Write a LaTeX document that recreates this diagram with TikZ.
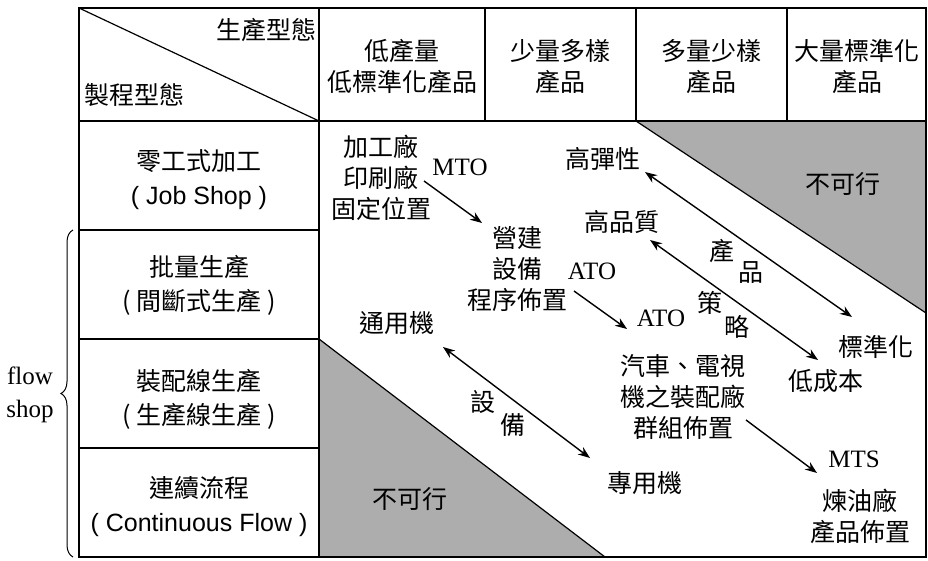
\documentclass[tikz,border=0pt]{standalone}
\usepackage{fontspec}
\setmainfont{Noto Sans CJK TC}
\newfontfamily\latsans{Liberation Sans}
\newfontfamily\latserif{Liberation Serif}
\usetikzlibrary{arrows.meta,decorations.pathreplacing}

\begin{document}
\begin{tikzpicture}[x=1pt,y=-1pt,txt/.style={align=center,inner sep=0pt,font=\fontsize{25}{31}\selectfont},rowlab/.style={align=center,inner sep=0pt,font=\fontsize{25}{34}\selectfont},lat/.style={inner sep=0pt,font=\fontsize{25}{31}\selectfont\latserif},grid/.style={line width=1.2pt},frame/.style={line width=2pt},arr/.style={line width=1.4pt,-{Stealth[length=12pt,width=9pt]}},arrb/.style={arr,{Stealth[length=12pt,width=9pt]}-{Stealth[length=12pt,width=9pt]}},nogo/.style={fill=black!32}]
\def\xl{79};
\def\xa{319};
\def\xb{485};
\def\xc{636};
\def\xd{787};
\def\xr{926};
\def\yt{8};
\def\ya{121};
\def\yb{230};
\def\yc{339};
\def\yd{448};
\def\ye{557};

\useasboundingbox (0,0) rectangle (928,561);

\fill[nogo] (\xc,\ya) -- (\xr,\ya) -- (\xr,313) -- cycle;
\fill[nogo] (\xa,\yc) -- (\xa,\ye) -- (605,\ye) -- cycle;
\draw[grid] (\xc,\ya) -- (\xr,313);
\draw[grid] (\xa,\yc) -- (605,\ye);

\draw[grid] (\xa,\yt) -- (\xa,\ye);
\draw[grid] (\xb,\yt) -- (\xb,\ya);
\draw[grid] (\xc,\yt) -- (\xc,\ya);
\draw[grid] (\xd,\yt) -- (\xd,\ya);
\draw[grid] (\xl,\ya) -- (\xr,\ya);
\draw[grid] (\xl,\yb) -- (\xa,\yb);
\draw[grid] (\xl,\yc) -- (\xa,\yc);
\draw[grid] (\xl,\yd) -- (\xa,\yd);
\draw[grid] (\xl,\yt) -- (\xa,\ya);
\draw[frame] (\xl,\yt) rectangle (\xr,\ye);

\node[txt] (prod) at (266,30) {生產型態};
\node[txt] (proc) at (134,95) {製程型態};

\node[txt] (c1) at (402,67) {低產量\\低標準化產品};
\node[txt] (c2) at (560,67) {少量多樣\\產品};
\node[txt] (c3) at (711,67) {多量少樣\\產品};
\node[txt] (c4) at (857,67) {大量標準化\\產品};

\node[rowlab] (r1) at (199,180) {零工式加工\\{\latsans( Job Shop )}};
\node[rowlab] (r2) at (199,285) {批量生產\\( 間斷式生產 )};
\node[rowlab] (r3) at (199,399) {裝配線生產\\( 生產線生產 )};
\node[rowlab] (r4) at (199,507) {連續流程\\{\latsans( Continuous Flow )}};

\draw[decorate,decoration={brace,amplitude=12pt},line width=1pt] (73,\ye) -- (73,\yb);
\node[txt,font=\fontsize{25}{33}\selectfont\latserif] (flow) at (30,395) {flow\\shop};

\node[txt] (no1) at (843,184) {不可行};
\node[txt] (no2) at (410,499) {不可行};

\node[txt] (job) at (381,178) {加工廠\\印刷廠\\固定位置};
\node[lat] (mto) at (460,167) {MTO};
\node[txt] (con) at (517,269) {營建\\設備\\程序佈置};
\node[lat] (ato1) at (592,271) {ATO};
\node[lat] (ato2) at (661,318) {ATO};
\node[txt] (car) at (683,397) {汽車、電視\\機之裝配廠\\群組佈置};
\node[lat] (mts) at (854,459) {MTS};
\node[txt] (oil) at (860,516) {煉油廠\\產品佈置};

\node[txt] (flex) at (603,159) {高彈性};
\node[txt] (qual) at (622,222) {高品質};
\node[txt] (std) at (876,347) {標準化};
\node[txt] (cost) at (826,381) {低成本};
\node[txt] (gen) at (397,323) {通用機};
\node[txt] (spec) at (645,483) {專用機};

\node[txt] (p1) at (722,251) {產};
\node[txt] (p2) at (751,273) {品};
\node[txt] (s1) at (710,303) {策};
\node[txt] (s2) at (737,327) {略};
\node[txt] (e1) at (483,402) {設};
\node[txt] (e2) at (513,425) {備};

\coordinate (m1) at (424,181);
\coordinate (m2) at (482,223);
\coordinate (a1) at (574,291);
\coordinate (a2) at (627,329);
\coordinate (t1) at (746,420);
\coordinate (t2) at (817,473);
\coordinate (f1) at (645,172);
\coordinate (f2) at (852,317);
\coordinate (q1) at (650,240);
\coordinate (q2) at (818,360);
\coordinate (g1) at (443,347);
\coordinate (g2) at (590,458);

\draw[arr] (m1) -- (m2);
\draw[arr] (a1) -- (a2);
\draw[arr] (t1) -- (t2);
\draw[arrb] (f1) -- (f2);
\draw[arrb] (q1) -- (q2);
\draw[arrb] (g1) -- (g2);
\end{tikzpicture}
\end{document}
